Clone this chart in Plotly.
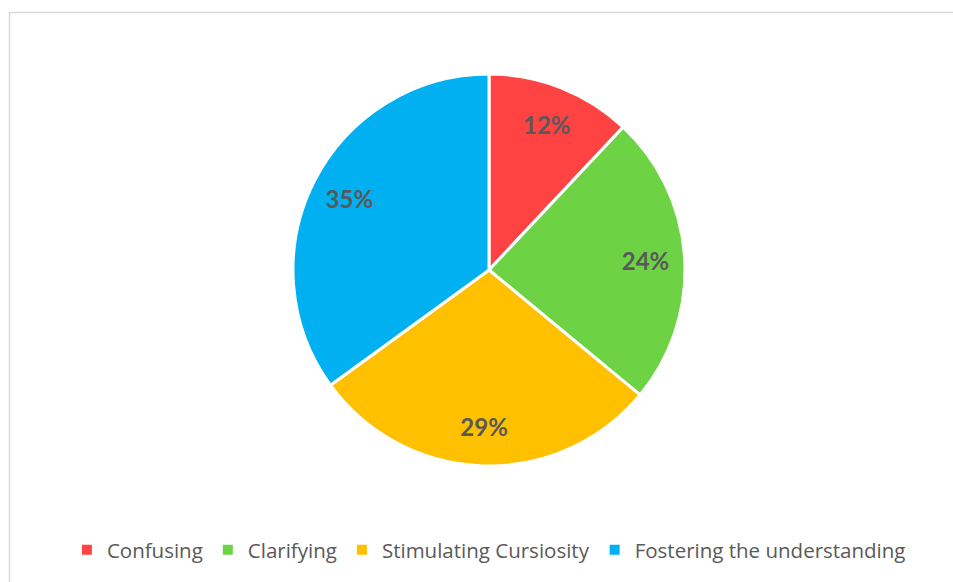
import plotly.graph_objects as go

categories = ["Confusing", "Clarifying", "Stimulating Cursiosity", "Fostering the understanding"]
values = [12, 24, 29, 35]
colors = ["#FF4343", "#6DD344", "#FFC000", "#00B0F0"]

W, H = 953, 582
L, R, T, B = 25, 0, 74, 116

# Coloured slices (with legend)
fig = go.Figure(go.Pie(
    labels=categories,
    values=values,
    sort=False,
    direction="clockwise",
    rotation=0,
    marker=dict(colors=colors, line=dict(color="white", width=3)),
    textinfo="none",
    hoverinfo="label+percent",
    showlegend=True,
))

# Transparent ring used only to place the percentage labels near the rim
fig.add_trace(go.Pie(
    labels=categories,
    values=values,
    sort=False,
    direction="clockwise",
    rotation=0,
    hole=0.6,
    marker=dict(colors=["rgba(0,0,0,0)"] * len(values), line=dict(width=0)),
    textinfo="percent",
    textposition="inside",
    insidetextorientation="horizontal",
    texttemplate="<b>%{percent:.0%}</b>",
    textfont=dict(family="Lato, Open Sans, sans-serif", size=24, color="#595959"),
    hoverinfo="skip",
    showlegend=False,
))

def px2x(px):
    return (px - L) / (W - L - R)

def py2y(py):
    return 1 - (py - T) / (H - T - B)

fig.add_shape(type="rect", xref="paper", yref="paper",
              x0=px2x(9.5), x1=px2x(W + 5), y0=py2y(12.5), y1=py2y(H + 5),
              line=dict(color="#D9D9D9", width=1.5), fillcolor="rgba(0,0,0,0)", layer="below")

fig.update_layout(
    width=W, height=H,
    margin=dict(l=L, r=R, t=T, b=B),
    paper_bgcolor="white",
    plot_bgcolor="white",
    showlegend=True,
    legend=dict(orientation="h", x=0.513, xref="container", xanchor="center",
                y=1 - 550 / H, yref="container", yanchor="middle",
                font=dict(family="Open Sans, sans-serif", size=20.5, color="#595959"),
                itemsizing="constant", traceorder="normal"),
)

fig.write_html("out.html", config={"displayModeBar": False},
               post_script="document.body.style.margin='0';document.body.style.overflow='hidden';")
